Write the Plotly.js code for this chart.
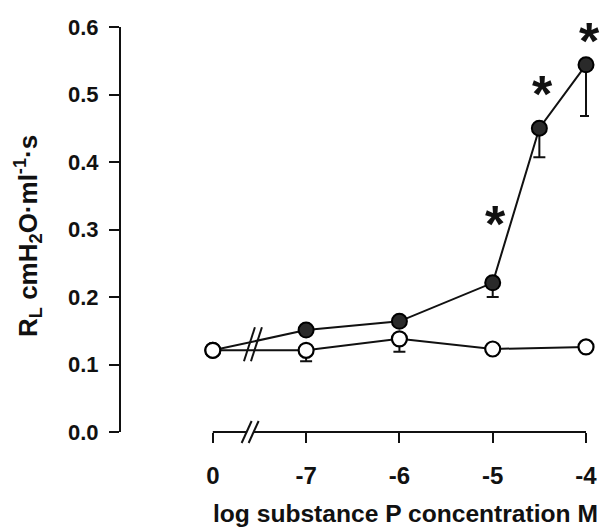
<!DOCTYPE html>
<html>
<head>
<meta charset="utf-8">
<script src="https://cdn.plot.ly/plotly-3.0.1.min.js"></script>
<style>html,body{margin:0;padding:0;background:#fff;}#chart{width:606px;height:530px;}</style>
</head>
<body>
<div id="chart"></div>
<script>
// ---- data ----
// log substance P concentration (M); 0 = no substance P (baseline)
var filledConc = [0, -7, -6, -5, -4.5, -4];
var filledRL   = [0.121, 0.151, 0.164, 0.221, 0.450, 0.544];
var filledSEM  = [0, 0, 0, 0.021, 0.043, 0.076];

var openConc = [0, -7, -6, -5, -4];
var openRL   = [0.121, 0.121, 0.138, 0.123, 0.126];
var openSEM  = [0, 0.016, 0.019, 0, 0];

var sigConc = [-5, -4.5, -4];           // points marked with *

var xTickConc  = [0, -7, -6, -5, -4];
var xTickText  = ['0', '-7', '-6', '-5', '-4'];
var yTickVals  = [0, 0.1, 0.2, 0.3, 0.4, 0.5, 0.6];

// ---- presentation ----
var BASE_POS = -8;                       // where the "0" (baseline) column is drawn, left of the axis break
function pos(c) { return c === 0 ? BASE_POS : c; }
var FONT = 'Liberation Sans, Arial, Helvetica, sans-serif';
var starShift = [70, 45, 35];
var STAR_SIZE = 52;

var zeros = function (a) { return a.map(function () { return 0; }); };

var traces = [
  {
    x: filledConc.map(pos), y: filledRL, type: 'scatter', mode: 'lines+markers',
    line: {color: '#111', width: 2},
    marker: {symbol: 'circle', size: 15, color: '#2a2a2a', line: {color: '#000', width: 2}},
    error_y: {type: 'data', symmetric: false, array: zeros(filledSEM), arrayminus: filledSEM,
              color: '#111', thickness: 2, width: 6},
    cliponaxis: false, hoverinfo: 'skip'
  },
  {
    x: openConc.map(pos), y: openRL, type: 'scatter', mode: 'lines+markers',
    line: {color: '#111', width: 2},
    marker: {symbol: 'circle', size: 15, color: '#fff', line: {color: '#000', width: 2.2}},
    error_y: {type: 'data', symmetric: false, array: zeros(openSEM), arrayminus: openSEM,
              color: '#111', thickness: 2, width: 6},
    cliponaxis: false, hoverinfo: 'skip'
  }
];

var annotations = sigConc.map(function (c, i) {
  var idx = filledConc.indexOf(c);
  return {x: c, y: filledRL[idx], xref: 'x', yref: 'y', text: '*', showarrow: false,
          xshift: 3, yshift: starShift[i] - 0.21 * STAR_SIZE, xanchor: 'center', yanchor: 'middle',
          font: {family: FONT, size: STAR_SIZE, color: '#111', weight: 700}};
});
annotations.push({
  xref: 'paper', yref: 'paper', x: -0.2, y: 0.485, textangle: -90,
  xanchor: 'center', yanchor: 'middle', showarrow: false,
  text: 'R<sub>L</sub> cmH<sub>2</sub>O·ml<sup>-1</sup>·s',
  font: {family: FONT, size: 26, color: '#111', weight: 700}
});
annotations.push({
  xref: 'paper', yref: 'paper', x: 0.6077, y: -0.2, xanchor: 'center', yanchor: 'middle',
  showarrow: false, text: 'log substance P concentration M',
  font: {family: FONT, size: 24.6, color: '#111', weight: 700}
});

function slash(xa, ya, yref, dx, dy, off) {
  return {type: 'line', xref: 'x', yref: yref, xsizemode: 'pixel', ysizemode: 'pixel',
          xanchor: xa, yanchor: ya, x0: off - dx, x1: off + dx, y0: -dy, y1: dy,
          line: {color: '#111', width: 2}};
}
var BREAK_POS = -7.6;
var shapes = [
  // x axis line (starts at the baseline column)
  {type: 'line', xref: 'x', yref: 'paper', x0: BASE_POS, x1: -4, y0: 0, y1: 0,
   line: {color: '#111', width: 2}},
  // white gap + break marks on axis
  {type: 'rect', xref: 'x', yref: 'paper', xsizemode: 'pixel', ysizemode: 'pixel',
   xanchor: BREAK_POS, yanchor: 0, x0: -3, x1: 3, y0: -2, y1: 2,
   fillcolor: '#fff', line: {width: 0}},
  slash(BREAK_POS, 0, 'paper', 5, 11, -3.5),
  slash(BREAK_POS, 0, 'paper', 5, 11, 3.5),
  // break marks across the data lines
  slash(-7.57, 0.130, 'y', 5.5, 17, -3.5),
  slash(-7.57, 0.130, 'y', 5.5, 17, 3.5)
];

var layout = {
  width: 606, height: 530,
  margin: {l: 121, r: 17, t: 27, b: 98},
  paper_bgcolor: '#fff', plot_bgcolor: '#fff',
  showlegend: false,
  font: {family: FONT, color: '#111'},
  xaxis: {
    range: [-8.984, -3.968], showline: false, showgrid: false, zeroline: false,
    tickmode: 'array', tickvals: xTickConc.map(pos), ticktext: xTickText,
    ticks: 'outside', ticklen: 10, tickwidth: 2, tickcolor: '#111',
    ticklabelstandoff: 12,
    tickfont: {family: FONT, size: 24, color: '#111', weight: 700}
  },
  yaxis: {
    range: [0, 0.6], showline: true, linecolor: '#111', linewidth: 2,
    showgrid: false, zeroline: false,
    tickmode: 'array', tickvals: yTickVals, tickformat: '.1f',
    ticks: 'outside', ticklen: 10, tickwidth: 2, tickcolor: '#111',
    ticklabelstandoff: 6,
    tickfont: {family: FONT, size: 22, color: '#111', weight: 700}
  },
  annotations: annotations,
  shapes: shapes
};

Plotly.newPlot('chart', traces, layout, {staticPlot: true, displayModeBar: false});
</script>
</body>
</html>
